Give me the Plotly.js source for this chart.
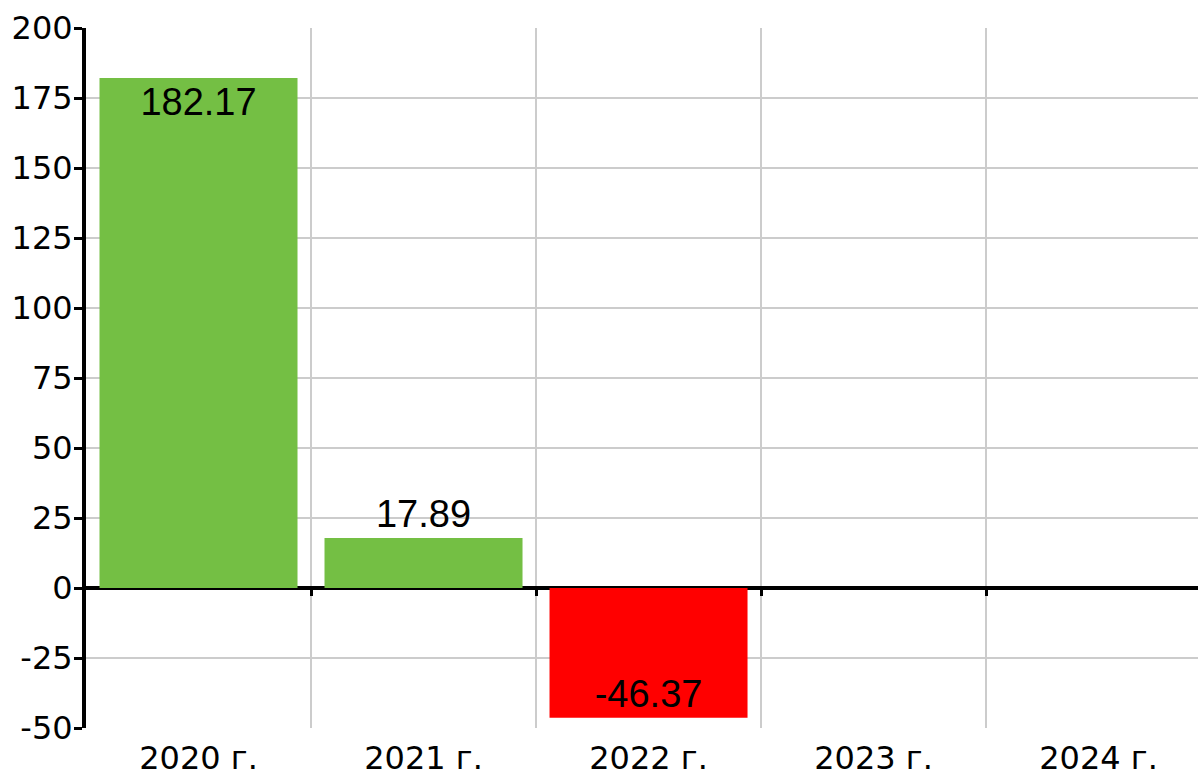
<!DOCTYPE html>
<html>
<head>
<meta charset="utf-8">
<script src="https://cdn.plot.ly/plotly-3.0.1.min.js"></script>
<style>html,body{margin:0;padding:0;background:#fff;}#chart{width:1198px;height:771px;}</style>
</head>
<body>
<div id="chart"></div>
<script>
const categories = ["2020 г.", "2021 г.", "2022 г.", "2023 г.", "2024 г."];
const values = [182.17, 17.89, -46.37, null, null];
const labels = ["182.17", "17.89", "-46.37", "", ""];
const barColors = ["#74bf44", "#74bf44", "#ff0000", "#74bf44", "#74bf44"];
const labelPositions = ["inside", "outside", "inside", "none", "none"];
const yTicks = [-50, -25, 0, 25, 50, 75, 100, 125, 150, 175, 200];
const boundaryTicks = [0.5, 1.5, 2.5, 3.5];

const tickFont = {family: "DejaVu Sans", size: 32, color: "#000"};
const labelFont = {family: "Liberation Sans, Arial, sans-serif", size: 38, color: "#000"};

const traces = [
  {
    type: "bar",
    x: categories,
    y: values,
    text: labels,
    textposition: labelPositions,
    insidetextanchor: "end",
    textfont: labelFont,
    insidetextfont: labelFont,
    outsidetextfont: labelFont,
    constraintext: "none",
    cliponaxis: false,
    marker: {color: barColors},
    width: 0.88,
    hoverinfo: "x+y",
    showlegend: false
  },
  {
    type: "scatter",
    mode: "markers",
    x: [0, 1, 2, 3, 4],
    y: [null, null, null, null, null],
    xaxis: "x2",
    yaxis: "y",
    hoverinfo: "skip",
    showlegend: false
  }
];

const layout = {
  width: 1198,
  height: 771,
  margin: {l: 86, r: 0, t: 28, b: 43, pad: 0},
  paper_bgcolor: "#fff",
  plot_bgcolor: "#fff",
  showlegend: false,
  xaxis: {
    type: "category",
    categoryorder: "array",
    categoryarray: categories,
    range: [-0.5, 4.442],
    tickson: "boundaries",
    showgrid: true,
    gridcolor: "#cccccc",
    gridwidth: 2,
    ticks: "",
    ticklabelstandoff: 8,
    showline: false,
    zeroline: false,
    tickfont: tickFont
  },
  xaxis2: {
    type: "linear",
    overlaying: "x",
    anchor: "free",
    position: 0.2,
    side: "bottom",
    range: [-0.5, 4.442],
    tickmode: "array",
    tickvals: boundaryTicks,
    showgrid: false,
    showline: false,
    zeroline: false,
    ticks: "outside",
    ticklen: 7,
    tickwidth: 3,
    tickcolor: "#000",
    showticklabels: false
  },
  yaxis: {
    range: [-50, 200],
    tickmode: "array",
    tickvals: yTicks,
    ticktext: yTicks.map(String),
    showgrid: true,
    gridcolor: "#cccccc",
    gridwidth: 2,
    zeroline: true,
    zerolinecolor: "#000",
    zerolinewidth: 4,
    showline: true,
    linecolor: "#000",
    linewidth: 4,
    ticks: "outside",
    ticklen: 8,
    tickwidth: 3,
    tickcolor: "#000",
    ticklabelstandoff: -5,
    tickfont: tickFont
  }
};

Plotly.newPlot("chart", traces, layout, {displayModeBar: false, staticPlot: true});
</script>
</body>
</html>
